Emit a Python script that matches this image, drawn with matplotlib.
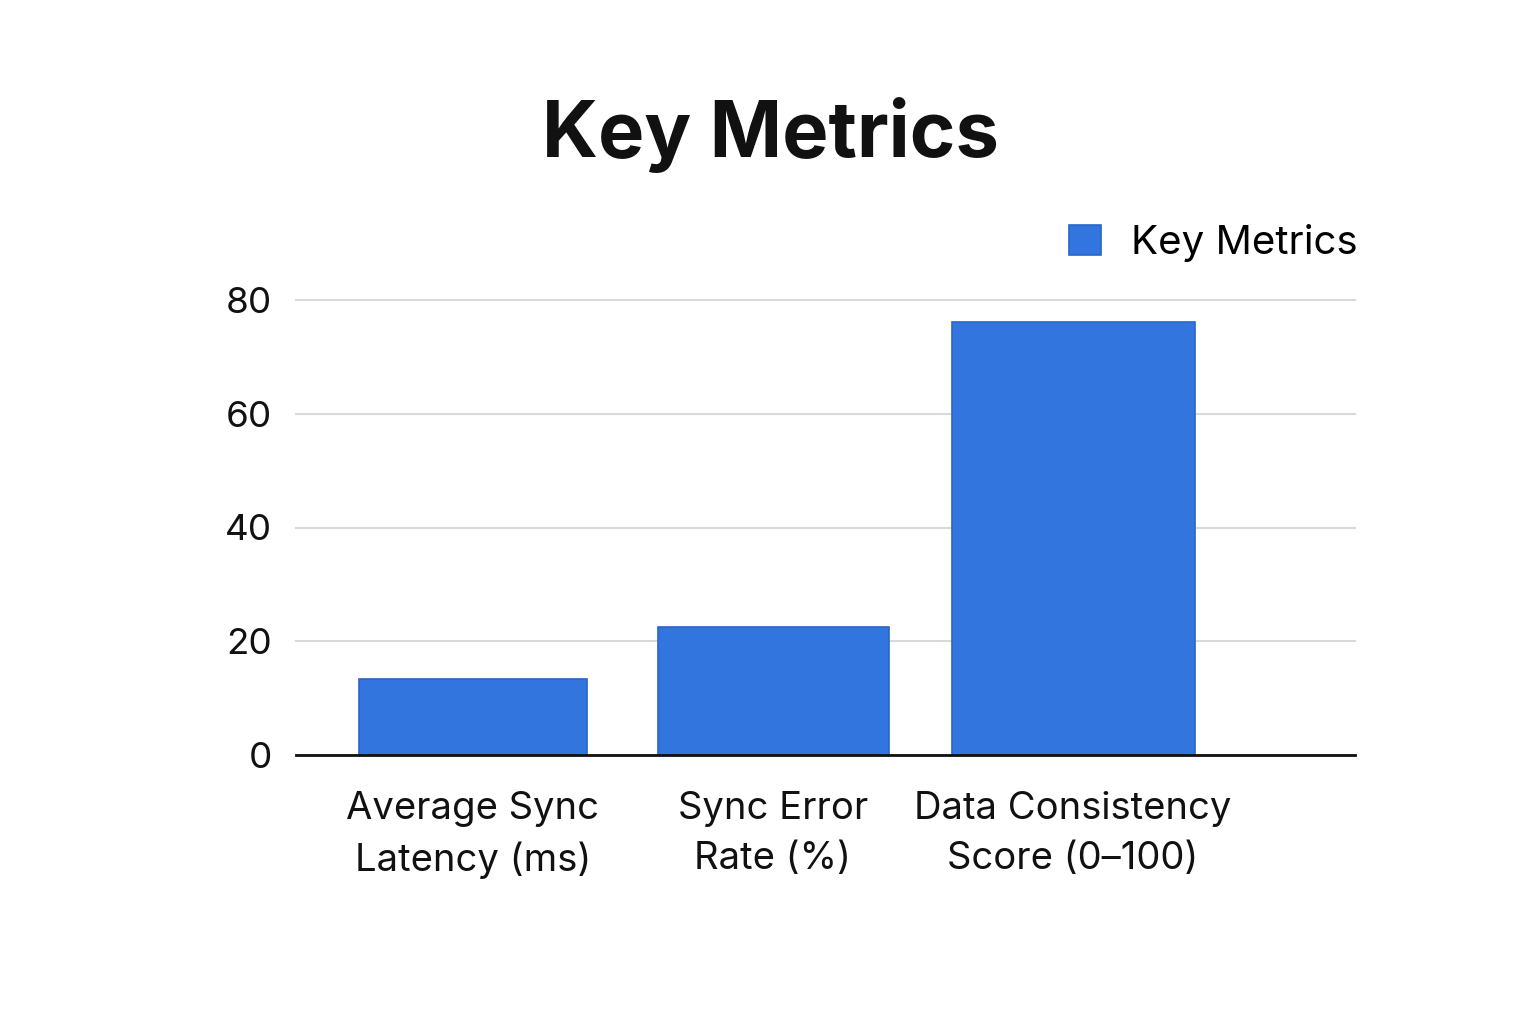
import matplotlib
matplotlib.use("Agg")
import matplotlib.pyplot as plt

categories = ["Average Sync\nLatency (ms)", "Sync Error\nRate (%)", "Data Consistency\nScore (0\u2013100)"]
values = [13.4, 22.5, 76.1]
yticks = [0, 20, 40, 60, 80]
series_name = "Key Metrics"
title = "Key Metrics"

plt.rcParams['font.family'] = ['Inter', 'DejaVu Sans']

fig = plt.figure(figsize=(15.36, 10.24), dpi=100)
fig.patch.set_facecolor("white")
ax = fig.add_axes([296/1536, 269/1024, (1355-296)/1536, (755-300)/1024])

x = list(range(len(categories)))
ax.bar(x, values, width=[0.76, 0.77, 0.81], color="#3275DE", edgecolor="#2a66c8", linewidth=1.2,
       label=series_name, zorder=3)

ax.set_xlim(-0.59, 2.94)
ax.set_ylim(0, 80)
ax.set_yticks(yticks)
ax.set_yticklabels([str(v) for v in yticks], fontsize=26.5)
ax.set_xticks(x)
ax.set_xticklabels(categories, fontsize=27.5, linespacing=1.5)
ax.tick_params(axis="both", length=0, colors="#111111")
ax.tick_params(axis="y", pad=17)
ax.tick_params(axis="x", pad=26)
ax.grid(axis="y", color="#d9d9d9", linewidth=1.5, zorder=0)
for ln in ax.get_ygridlines():
    ln.set_clip_on(False)
for s in ["top", "right", "left"]:
    ax.spines[s].set_visible(False)
ax.spines["bottom"].set_color("#111111")
ax.spines["bottom"].set_linewidth(2)
ax.spines["bottom"].set_zorder(4)

fig.text(770/1536, 1 - 135/1024, title, ha="center", va="center", fontsize=56, fontweight="bold", color="#111111")

leg = fig.legend(loc="center right", bbox_to_anchor=(1358/1536, 1 - 243/1024), frameon=False,
                 fontsize=29, handlelength=0.8, handleheight=0.8, handletextpad=0.75,
                 borderpad=0, borderaxespad=0)

fig.savefig("out.png", dpi=100)
